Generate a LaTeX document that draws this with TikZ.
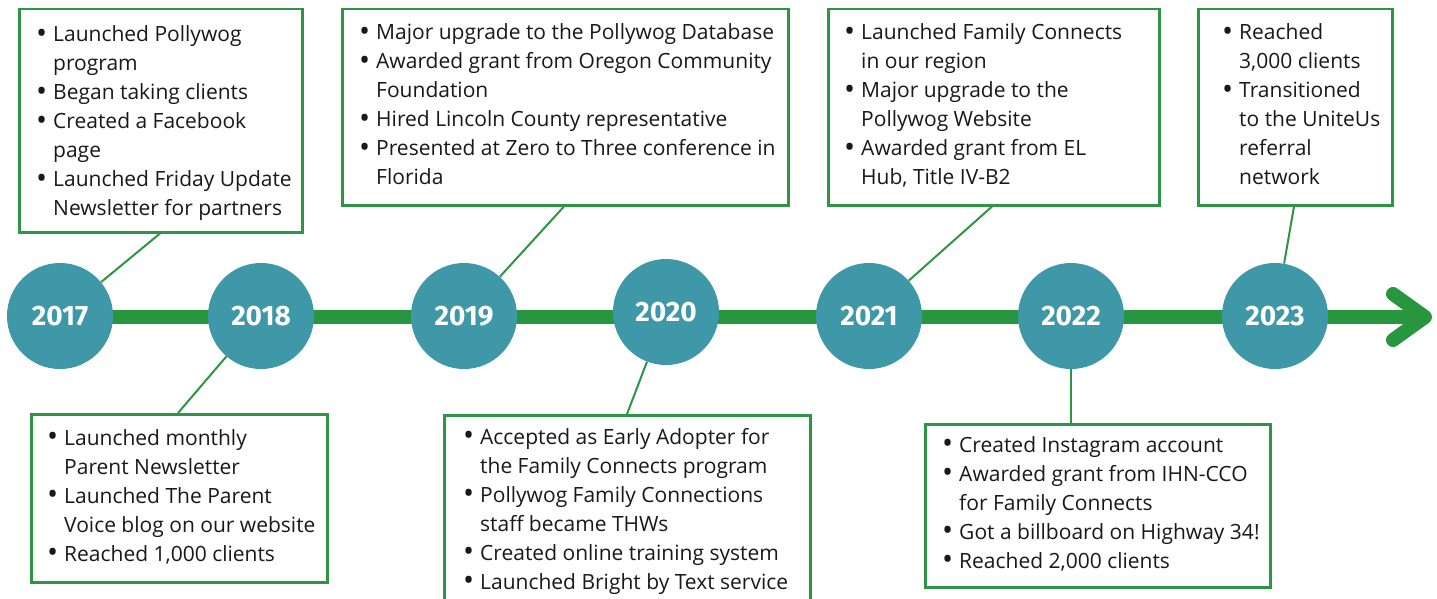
\documentclass[tikz,border=0pt]{standalone}
\usepackage{fontspec}
\setmainfont{Open Sans}
\newfontfamily\yearfont{Fira Sans}
\usetikzlibrary{calc}
\definecolor{tealc}{RGB}{62,152,168}
\definecolor{grn}{RGB}{40,150,62}
\definecolor{boxgrn}{RGB}{46,148,70}
\definecolor{txt}{RGB}{25,25,25}
\newcommand\bu{\makebox[17pt][l]{\raisebox{-1.5pt}{\scalebox{1.4}{\textbullet}}}}
\newcommand\lst[1]{\begin{tabular}[t]{@{}l@{}l@{}}#1\end{tabular}}
\tikzset{
  box/.style={draw=boxgrn, line width=2.5pt, anchor=north west, inner sep=0pt},
  lsttext/.style={anchor=base west, inner sep=0pt, text=txt, font=\fontsize{21}{29}\selectfont},
  yr/.style={circle, fill=tealc, minimum size=106pt, inner sep=0pt, text=white,
    font=\yearfont\bfseries\fontsize{28}{28}\selectfont},
  conn/.style={draw=boxgrn, line width=2pt},
  mainline/.style={draw=grn, line width=14pt},
}
\begin{document}
\begin{tikzpicture}[x=1pt,y=-1pt]
\useasboundingbox (0,0) rectangle (1437,599);
\fill[white] (0,0) rectangle (1437,599);
\clip (0,0) rectangle (1437,599);

% main line and arrow
\coordinate (start) at (60,317);
\coordinate (tip) at (1425,317);
\draw[mainline] (start) -- ($(tip)+(-4,0)$);
\draw[mainline, line cap=round, line join=round] ($(tip)+(-32,-23)$) -- (tip) -- ($(tip)+(-32,23)$);

% year circles
\node[yr] (y17) at (60,316) {2017};
\node[yr] (y18) at (261,316) {2018};
\node[yr] (y19) at (464,316) {2019};
\node[yr] (y20) at (666,312) {2020};
\node[yr] (y21) at (869,316) {2021};
\node[yr] (y22) at (1071,316) {2022};
\node[yr] (y23) at (1275,316) {2023};

% boxes
\node[box, minimum width=283pt, minimum height=223pt] (b17) at (18,8) {};
\node[box, minimum width=446pt, minimum height=196pt] (b19) at (341,8) {};
\node[box, minimum width=331pt, minimum height=196pt] (b21) at (827,8) {};
\node[box, minimum width=194pt, minimum height=196pt] (b23) at (1197,8) {};
\node[box, minimum width=296pt, minimum height=168pt] (b18) at (30,413) {};
\node[box, minimum width=366pt, minimum height=200pt] (b20) at (443,414) {};
\node[box, minimum width=345pt, minimum height=163pt] (b22) at (924,423) {};

% texts
\node[lsttext] (t17) at (36,42) {\lst{\bu&Launched Pollywog\\&program\\\bu&Began taking clients\\\bu&Created a Facebook\\&page\\\bu&Launched Friday Update\\&Newsletter for partners}};
\node[lsttext] (t19) at (359,40) {\lst{\bu&Major upgrade to the Pollywog Database\\\bu&Awarded grant from Oregon Community\\&Foundation\\\bu&Hired Lincoln County representative\\\bu&Presented at Zero to Three conference in\\&Florida}};
\node[lsttext] (t21) at (844,40) {\lst{\bu&Launched Family Connects\\&in our region\\\bu&Major upgrade to the\\&Pollywog Website\\\bu&Awarded grant from EL\\&Hub, Title IV-B2}};
\node[lsttext] (t23) at (1222,40) {\lst{\bu&Reached\\&3,000 clients\\\bu&Transitioned\\&to the UniteUs\\&referral\\&network}};
\node[lsttext] (t18) at (47,445) {\lst{\bu&Launched monthly\\&Parent Newsletter\\\bu&Launched The Parent\\&Voice blog on our website\\\bu&Reached 1,000 clients}};
\node[lsttext] (t20) at (463,444) {\lst{\bu&Accepted as Early Adopter for\\&the Family Connects program\\\bu&Pollywog Family Connections\\&staff became THWs\\\bu&Created online training system\\\bu&Launched Bright by Text service}};
\node[lsttext] (t22) at (942,452) {\lst{\bu&Created Instagram account\\\bu&Awarded grant from IHN-CCO\\&for Family Connects\\\bu&Got a billboard on Highway 34!\\\bu&Reached 2,000 clients}};

% connectors
\draw[conn] ($(b17.south west)+(142,0)$) -- (y17);
\draw[conn] ($(b19.south west)+(223,0)$) -- (y19);
\draw[conn] ($(b21.south west)+(165,0)$) -- (y21);
\draw[conn] ($(b23.south west)+(97,0)$) -- (y23);
\draw[conn] ($(b18.north west)+(148,0)$) -- (y18);
\draw[conn] ($(b20.north west)+(184,0)$) -- (y20);
\draw[conn] (b22.north -| y22.south) -- (y22.south);
\end{tikzpicture}
\end{document}
